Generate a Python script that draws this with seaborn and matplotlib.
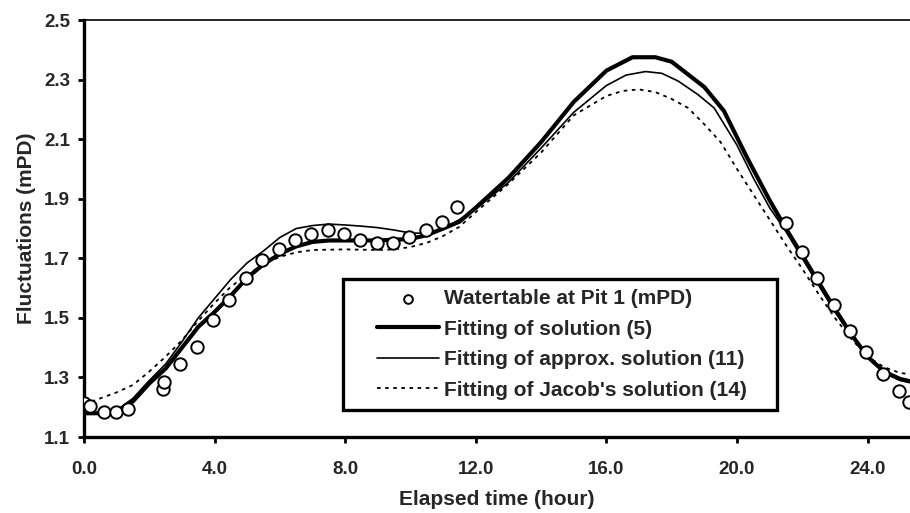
import seaborn as sns
import matplotlib.pyplot as plt
from matplotlib.offsetbox import HPacker, DrawingArea

# observed watertable at Pit 1 (hour, mPD)
obs_t = [0.0, 0.17, 0.62, 0.98, 1.35, 2.43, 2.46, 2.95, 3.46, 3.95, 4.45, 4.96,
         5.45, 5.97, 6.47, 6.95, 7.47, 7.96, 8.45, 8.98, 9.45, 9.94, 10.47,
         10.96, 11.44, 21.49, 21.99, 22.44, 22.97, 23.47, 23.96, 24.46, 24.96, 25.28]
obs_h = [1.215, 1.205, 1.183, 1.183, 1.195, 1.262, 1.286, 1.344, 1.402, 1.492,
         1.561, 1.635, 1.694, 1.730, 1.761, 1.783, 1.794, 1.783, 1.763, 1.750,
         1.750, 1.772, 1.794, 1.822, 1.872, 1.820, 1.721, 1.635, 1.544, 1.456,
         1.385, 1.313, 1.254, 1.219]

# fitting of solution (5)
sol5_t = [0.0, 0.5, 1.0, 1.5, 2.0, 2.5, 3.0, 3.5, 4.0, 4.5, 5.0, 5.5, 6.0, 6.5,
          7.0, 7.5, 8.0, 9.0, 10.0, 10.5, 11.0, 11.5, 12.0, 13.0, 14.0, 15.0,
          16.0, 16.8, 17.5, 18.0, 19.0, 19.6, 20.3, 21.0, 21.5, 22.0, 22.5,
          23.0, 23.5, 24.0, 24.5, 25.0, 25.4]
sol5_h = [1.18, 1.18, 1.185, 1.22, 1.28, 1.33, 1.40, 1.47, 1.52, 1.575, 1.635,
          1.68, 1.715, 1.74, 1.755, 1.76, 1.76, 1.76, 1.765, 1.778, 1.80, 1.823,
          1.87, 1.97, 2.09, 2.225, 2.33, 2.375, 2.375, 2.36, 2.275, 2.195, 2.04,
          1.895, 1.80, 1.71, 1.62, 1.53, 1.445, 1.37, 1.32, 1.295, 1.285]

# fitting of approx. solution (11)
sol11_t = [0.0, 0.5, 1.0, 1.5, 2.0, 2.5, 3.0, 3.5, 4.0, 4.5, 5.0, 5.5, 6.0, 6.5,
           7.0, 7.5, 8.0, 8.5, 9.0, 9.5, 10.0, 10.5, 11.0, 11.5, 12.0, 13.0,
           14.0, 15.0, 16.0, 16.6, 17.2, 17.7, 18.2, 18.8, 19.3, 20.0, 20.5,
           21.0, 21.5, 22.0, 22.5, 23.0, 23.5, 24.0, 24.5, 25.0, 25.4]
sol11_h = [1.18, 1.18, 1.19, 1.23, 1.29, 1.345, 1.42, 1.50, 1.565, 1.63, 1.685,
           1.725, 1.77, 1.80, 1.81, 1.815, 1.812, 1.808, 1.803, 1.795, 1.785,
           1.784, 1.80, 1.83, 1.865, 1.955, 2.07, 2.19, 2.28, 2.315, 2.327,
           2.321, 2.295, 2.25, 2.205, 2.08, 1.97, 1.87, 1.79, 1.70, 1.61, 1.52,
           1.44, 1.37, 1.315, 1.29, 1.28]

# fitting of Jacob's solution (14)
sol14_t = [0.0, 0.5, 1.0, 1.5, 2.0, 2.5, 3.0, 3.5, 4.0, 4.5, 5.0, 5.5, 6.0, 6.5,
           7.0, 8.0, 9.0, 9.5, 10.0, 10.5, 11.0, 11.5, 12.0, 13.0, 14.0, 15.0,
           16.0, 16.5, 17.0, 17.5, 18.0, 18.5, 19.0, 19.5, 20.0, 20.5, 21.0,
           21.5, 22.0, 22.5, 23.0, 23.5, 24.0, 24.5, 25.0, 25.4]
sol14_h = [1.21, 1.23, 1.25, 1.275, 1.32, 1.37, 1.425, 1.49, 1.55, 1.605, 1.645,
           1.68, 1.705, 1.72, 1.728, 1.73, 1.728, 1.73, 1.738, 1.752, 1.775,
           1.806, 1.855, 1.95, 2.055, 2.18, 2.245, 2.262, 2.267, 2.258, 2.235,
           2.205, 2.15, 2.09, 2.00, 1.915, 1.83, 1.745, 1.665, 1.58, 1.50, 1.43,
           1.37, 1.335, 1.315, 1.31]

sns.set_style("ticks")
plt.rcParams['font.family'] = ['Liberation Sans', 'DejaVu Sans']
plt.rcParams['font.weight'] = 'bold'

fig = plt.figure(figsize=(9.1, 5.13), dpi=100)
ax = fig.add_axes([0.0923, 0.148, 0.9077, 0.813])

sns.scatterplot(x=obs_t, y=obs_h, ax=ax, marker='o', s=80, facecolor='white',
                edgecolor='black', linewidth=1.4, zorder=3,
                label='Watertable at Pit 1 (mPD)')
sns.lineplot(x=sol5_t, y=sol5_h, ax=ax, color='black', linewidth=3.0,
             estimator=None, sort=False, label='Fitting of solution (5)')
sns.lineplot(x=sol11_t, y=sol11_h, ax=ax, color='black', linewidth=1.2,
             estimator=None, sort=False, label='Fitting of approx. solution (11)')
sns.lineplot(x=sol14_t, y=sol14_h, ax=ax, color='black', linewidth=1.3,
             linestyle=(0, (2, 2.5)), estimator=None, sort=False,
             label="Fitting of Jacob's solution (14)")

ax.set_xlim(0, 25.3)
ax.set_ylim(1.1, 2.5)
ax.set_xticks([0, 4, 8, 12, 16, 20, 24])
ax.set_xticklabels(['0.0', '4.0', '8.0', '12.0', '16.0', '20.0', '24.0'])
ax.set_yticks([1.1, 1.3, 1.5, 1.7, 1.9, 2.1, 2.3, 2.5])
ax.set_yticklabels(['1.1', '1.3', '1.5', '1.7', '1.9', '2.1', '2.3', '2.5'])
ax.tick_params(axis='both', labelsize=13.5, width=2, length=4, color='black')
ax.tick_params(axis='x', pad=13)
ax.tick_params(axis='y', pad=6)
for lbl in ax.get_xticklabels() + ax.get_yticklabels():
    lbl.set_fontweight('bold')

ax.spines['left'].set_linewidth(2.4)
ax.spines['bottom'].set_linewidth(2.4)
ax.spines['top'].set_linewidth(1.2)
ax.spines['right'].set_visible(False)
for s in ax.spines.values():
    s.set_color('black')

ax.set_xlabel('Elapsed time (hour)', fontsize=15, fontweight='bold', labelpad=9)
ax.set_ylabel('Fluctuations (mPD)', fontsize=15, fontweight='bold', labelpad=6)

handles, labels = ax.get_legend_handles_labels()
leg = ax.legend(handles, labels, loc='lower left', bbox_to_anchor=(0.313, 0.065),
                borderaxespad=0, fancybox=False, frameon=True, edgecolor='black',
                framealpha=1, fontsize=15, handlelength=3.0, handletextpad=0.24,
                labelspacing=0.55, borderpad=0.5, markerscale=0.7)
leg.get_frame().set_linewidth(2.4)
for t in leg.get_texts():
    t.set_fontweight('bold')
# wider horizontal padding inside the legend box
box = leg._legend_box
inner = box._children[1]
box._children[1] = HPacker(children=[DrawingArea(17, 1), inner, DrawingArea(14, 1)],
                           pad=0, sep=0)

fig.savefig('out.png', dpi=100)
